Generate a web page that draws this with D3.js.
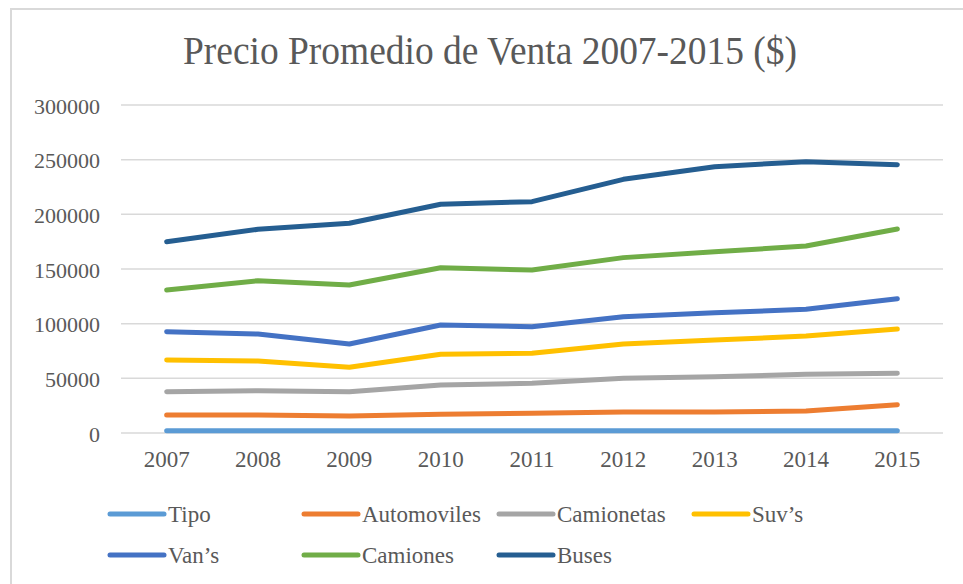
<!DOCTYPE html>
<html lang="es">
<head>
<meta charset="utf-8">
<title>Precio Promedio de Venta 2007-2015</title>
<script src="https://d3js.org/d3.v7.min.js"></script>
<style>
  body { margin: 0; background: #fff; }
  svg { display: block; }
  svg text { font-family: "Liberation Serif", "Tinos", "Times New Roman", "DejaVu Serif", serif !important; fill: #595959; }
</style>
</head>
<body>
<div id="chart"></div>
<script>
// data
var years = ["2007", "2008", "2009", "2010", "2011", "2012", "2013", "2014", "2015"];
var seriesNames = ["Tipo", "Automoviles", "Camionetas", "Suv\u2019s", "Van\u2019s", "Camiones", "Buses"];
var tipo        = [2007, 2008, 2009, 2010, 2011, 2012, 2013, 2014, 2015];
var automoviles = [16500, 16500, 15500, 17100, 18000, 19200, 19200, 20100, 25900];
var camionetas  = [37800, 38700, 37800, 43900, 45400, 50000, 51500, 53700, 54600];
var suvs        = [66800, 65900, 60100, 72000, 72900, 81400, 85000, 88700, 95100];
var vans        = [92700, 90500, 81400, 98800, 97200, 106400, 110000, 113100, 122800];
var camiones    = [130800, 139300, 135400, 151200, 149100, 160400, 165800, 171000, 186600];
var buses       = [175000, 186300, 191800, 209200, 211600, 232000, 243600, 248200, 245400];
var yTicks = [0, 50000, 100000, 150000, 200000, 250000, 300000];
var colors = ["#5b9bd5", "#ed7d31", "#a5a5a5", "#ffc000", "#4472c4", "#70ad47", "#255e91"];

var allValues = [tipo, automoviles, camionetas, suvs, vans, camiones, buses];

var W = 963, H = 584;
var svg = d3.select("#chart").append("svg")
    .attr("width", W)
    .attr("height", H);

// chart frame
svg.append("rect")
    .attr("x", 11).attr("y", 9)
    .attr("width", 1000).attr("height", 1000)
    .attr("fill", "#fff")
    .attr("stroke", "#d9d9d9")
    .attr("stroke-width", 2);

var x = d3.scaleBand()
    .domain(years)
    .range([121, 943])
    .padding(0);

var y = d3.scaleLinear()
    .domain([0, 300000])
    .range([433, 105]);

// title
svg.append("text")
    .attr("x", 490)
    .attr("y", 64)
    .attr("text-anchor", "middle")
    .attr("textLength", 614)
    .attr("lengthAdjust", "spacingAndGlyphs")
    .style("font-size", "39px")
    .text("Precio Promedio de Venta 2007-2015 ($)");

// gridlines
svg.append("g")
  .selectAll("line")
  .data(yTicks)
  .enter()
  .append("line")
    .attr("x1", 121)
    .attr("x2", 943)
    .attr("y1", function(d) { return y(d); })
    .attr("y2", function(d) { return y(d); })
    .attr("stroke", "#d9d9d9")
    .attr("stroke-width", 1.5);

// y axis labels
var yAxis = d3.axisLeft(y).tickValues(yTicks).tickSize(0).tickPadding(0).tickFormat(d3.format("d"));
var gy = svg.append("g")
    .attr("transform", "translate(100,1)")
    .call(yAxis);
gy.select(".domain").remove();
gy.selectAll("text")
    .style("font-size", "22px")
    .attr("fill", "#595959");

// x axis labels
var xAxis = d3.axisBottom(x).tickSize(0).tickPadding(0);
var gx = svg.append("g")
    .attr("transform", "translate(0,451)")
    .call(xAxis);
gx.select(".domain").remove();
gx.selectAll("text")
    .style("font-size", "23px")
    .attr("fill", "#595959");

// lines
var line = d3.line()
    .x(function(d, i) { return x(years[i]) + x.bandwidth() / 2; })
    .y(function(d) { return y(d); });

svg.append("g")
  .selectAll("path")
  .data(allValues)
  .enter()
  .append("path")
    .attr("d", line)
    .attr("fill", "none")
    .attr("stroke", function(d, i) { return colors[i]; })
    .attr("stroke-width", 5)
    .attr("stroke-linecap", "round")
    .attr("stroke-linejoin", "round");

// legend
var legendX = [108, 302, 497, 692];
var legendY = [514, 555];
var legend = svg.append("g")
  .selectAll("g")
  .data(seriesNames)
  .enter()
  .append("g")
    .attr("transform", function(d, i) {
      return "translate(" + legendX[i % 4] + "," + legendY[Math.floor(i / 4)] + ")";
    });

legend.append("line")
    .attr("x1", 2).attr("x2", 56)
    .attr("y1", 0).attr("y2", 0)
    .attr("stroke", function(d, i) { return colors[i]; })
    .attr("stroke-width", 5)
    .attr("stroke-linecap", "round");

legend.append("text")
    .attr("x", 60)
    .attr("y", 8)
    .style("font-size", "23px")
    .text(function(d) { return d; });
</script>
</body>
</html>
